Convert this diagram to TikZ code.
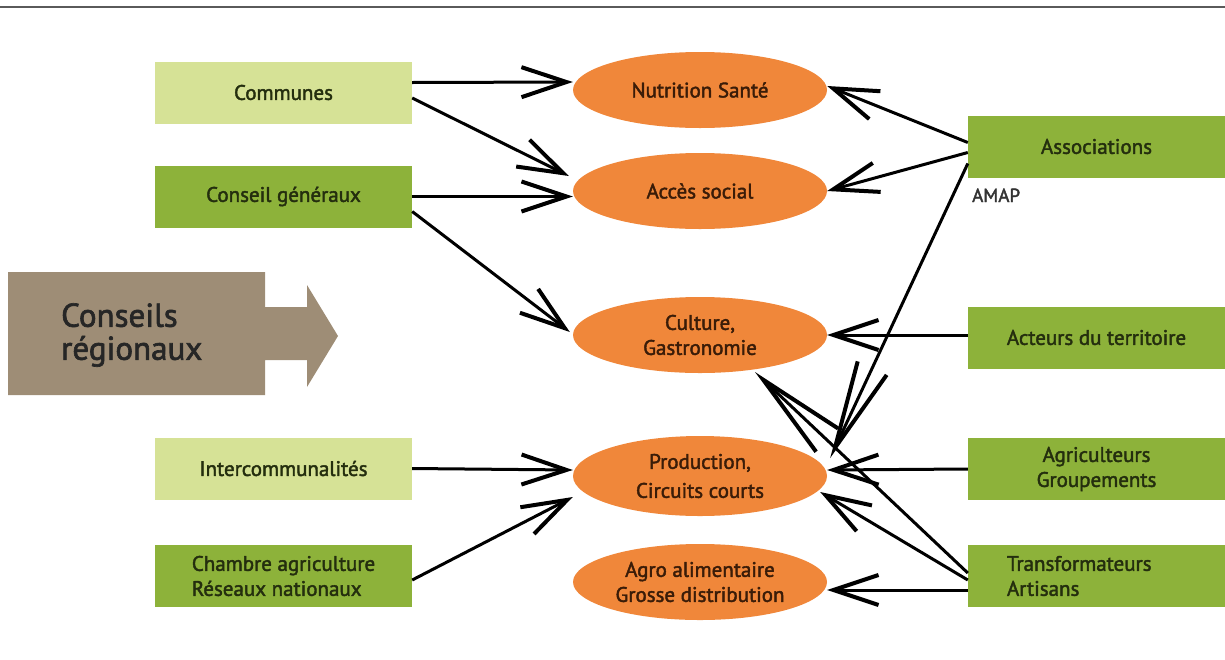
\documentclass[tikz,border=0pt]{standalone}
\usepackage{fontspec}
\setmainfont{PT Sans}[FakeBold=2]
\usetikzlibrary{arrows.meta,shapes.geometric}

\definecolor{lightg}{RGB}{214,226,150}
\definecolor{darkg}{RGB}{141,178,58}
\definecolor{orng}{RGB}{240,135,58}
\definecolor{brownar}{RGB}{158,141,118}
\definecolor{boxtext}{RGB}{36,46,14}
\definecolor{elltext}{RGB}{58,28,8}
\definecolor{rulegray}{RGB}{90,90,90}

\tikzset{
  actor/.style={rectangle, minimum width=257pt, minimum height=62pt, inner sep=0pt,
    text=boxtext, align=center, font=\fontsize{21}{25}\selectfont},
  light/.style={actor, fill=lightg},
  dark/.style={actor, fill=darkg},
  theme/.style={ellipse, minimum width=254pt, minimum height=76pt, inner sep=0pt,
    fill=orng, text=elltext, align=center, font=\fontsize{21}{25}\selectfont},
  % open chevron heads
  arr/.style={line width=3pt,
    -{Straight Barb[length=45pt, width=30pt, line width=4pt]}},
  arrlong/.style={line width=3pt,
    -{Straight Barb[length=88pt, width=32pt, line width=4pt]}},
}

\begin{document}
\begin{tikzpicture}[x=1pt, y=-1pt]
\useasboundingbox (0,0) rectangle (1225,659);

% top rule
\draw[rulegray, line width=2pt] (0,6.5) -- (1225,6.5);

% regional councils arrow
\fill[brownar] (8,272) -- (265,272) -- (265,307) -- (307,307) -- (307,285)
  -- (338,336) -- (307,387) -- (307,360) -- (265,360) -- (265,395) -- (8,395) -- cycle;
\node[anchor=west, inner sep=0pt, align=left, text=black!85,
  font=\fontsize{33}{33}\selectfont] (reg) at (61,335) {Conseils\\régionaux};

% left actors
\node[light] (com)   at (283.5,92.5)  {Communes};
\node[dark]  (cg)    at (283.5,196.5) {Conseil généraux};
\node[light] (inter) at (283.5,468.5) {Intercommunalités};
\node[dark, align=left] (ch) at (283.5,576) {Chambre agriculture\\Réseaux nationaux};

% themes
\node[theme] (nut)  at (700,90)  {Nutrition Santé};
\node[theme] (acc)  at (700,191) {Accès social};
\node[theme] (cul)  at (700,335) {Culture,\\Gastronomie};
\node[theme, minimum height=80pt, font=\fontsize{21}{29}\selectfont] (prod) at (700,476) {Production,\\Circuits courts};
\node[theme] (agro) at (700,582) {Agro alimentaire\\Grosse distribution};

% right actors
\node[dark] (assoc) at (1096.5,146.5) {Associations};
\node[anchor=base west, inner sep=0pt, text=black!80, font=\fontsize{19}{19}\selectfont]
  (amap) at (972,202) {AMAP};
\node[dark] (act)   at (1096.5,337.5) {Acteurs du territoire};
\node[dark] (agr)   at (1096.5,469)   {Agriculteurs\\Groupements};
\node[dark, text width=179pt, align=left] (trans) at (1096.5,576) {Transformateurs\\Artisans};

% links from the left
\draw[arr] ([yshift=10pt]com.east) -- ([yshift=8pt]nut.west);
\draw[arr] ([yshift=-5.5pt]com.east) -- ([xshift=-4pt,yshift=15pt]acc.west);
\draw[arr] (cg.east) -- (cg.east -| acc.west);
\draw[arr] ([yshift=-15pt]cg.east) -- ([xshift=-3pt,yshift=3pt]cul.west);
\draw[arr] (inter.east) -- ([yshift=6pt]prod.west);
\draw[arr] ([yshift=-4pt]ch.east) -- ([yshift=-21pt]prod.west);

% links from the right
\draw[arr] ([yshift=4pt]assoc.west) -- ([yshift=4pt]nut.east);
\draw[arr] ([yshift=-6pt]assoc.west) -- (acc.east);
\draw[arrlong] ([yshift=-17pt]assoc.west) -- ([xshift=3pt,yshift=18pt]prod.east);
\draw[arr] ([yshift=2.5pt]act.west) -- (cul.east);
\draw[arr] (agr.west) -- ([yshift=6pt]prod.east);
\draw[arr] ([yshift=-14pt]trans.west) -- ([yshift=-8pt]agro.east);
\draw[arr] ([yshift=-4pt]trans.west) -- ([xshift=-7pt,yshift=-16pt]prod.east);
\draw[arrlong] ([yshift=3pt]trans.west) -- ([xshift=55pt,yshift=-37pt]cul.center);
\end{tikzpicture}
\end{document}
